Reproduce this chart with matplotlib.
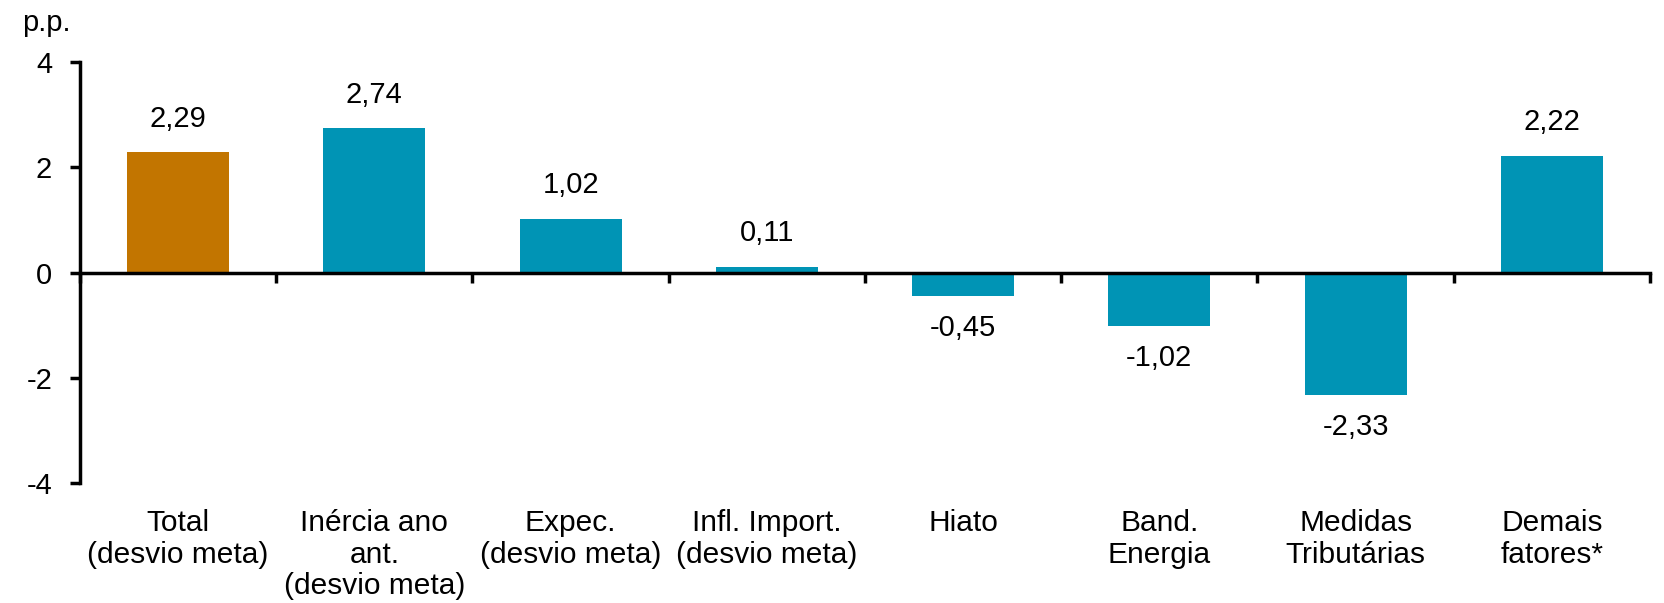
import numpy as np
import matplotlib
matplotlib.use("Agg")
import matplotlib.pyplot as plt

plt.rcParams['font.family'] = ['Liberation Sans', 'DejaVu Sans']

categorias = ["Total\n(desvio meta)", "Inércia ano\nant.\n(desvio meta)", "Expec.\n(desvio meta)",
              "Infl. Import.\n(desvio meta)", "Hiato", "Band.\nEnergia", "Medidas\nTributárias",
              "Demais\nfatores*"]
valores = [2.29, 2.74, 1.02, 0.11, -0.45, -1.02, -2.33, 2.22]
yticks = [-4, -2, 0, 2, 4]

laranja = "#C27500"
azul = "#0094B5"
cores = [laranja] + [azul] * (len(valores) - 1)

fig = plt.figure(figsize=(16.65, 6.03), dpi=100)
ax = fig.add_axes([0.048, 0.199, 0.943, 0.698])

x = np.arange(len(valores))
ax.bar(x, valores, width=0.52, color=cores, zorder=2)

for xi, v in zip(x, valores):
    txt = "{:.2f}".format(v).replace(".", ",")
    if v >= 0:
        ax.annotate(txt, (xi, v), xytext=(0, 14), textcoords="offset points",
                    ha="center", va="bottom", fontsize=21)
    else:
        ax.annotate(txt, (xi, v), xytext=(0, -13), textcoords="offset points",
                    ha="center", va="top", fontsize=21)

for xi, lab in zip(x, categorias):
    ax.text(xi, -4.5, lab, ha="center", va="top", fontsize=21.5, linespacing=1.15)

ax.set_xlim(-0.5, len(valores) - 0.5)
ax.set_ylim(-4, 4)
ax.set_yticks(yticks)
ax.set_yticklabels([str(t) for t in yticks])
ax.set_xticks(np.arange(len(valores) + 1) - 0.5)
ax.set_xticklabels([])

for s in ["top", "right"]:
    ax.spines[s].set_visible(False)
ax.spines["bottom"].set_position(("data", 0))
ax.spines["bottom"].set_linewidth(2.5)
ax.spines["left"].set_linewidth(2.5)
ax.spines["bottom"].set_zorder(3)

ax.tick_params(axis="y", direction="out", length=7, width=2.5, pad=13, labelsize=21)
ax.tick_params(axis="x", direction="out", length=7, width=2.5)

fig.text(0.013, 0.962, "p.p.", fontsize=21, ha="left", va="center")

fig.savefig("out.png", dpi=100)
